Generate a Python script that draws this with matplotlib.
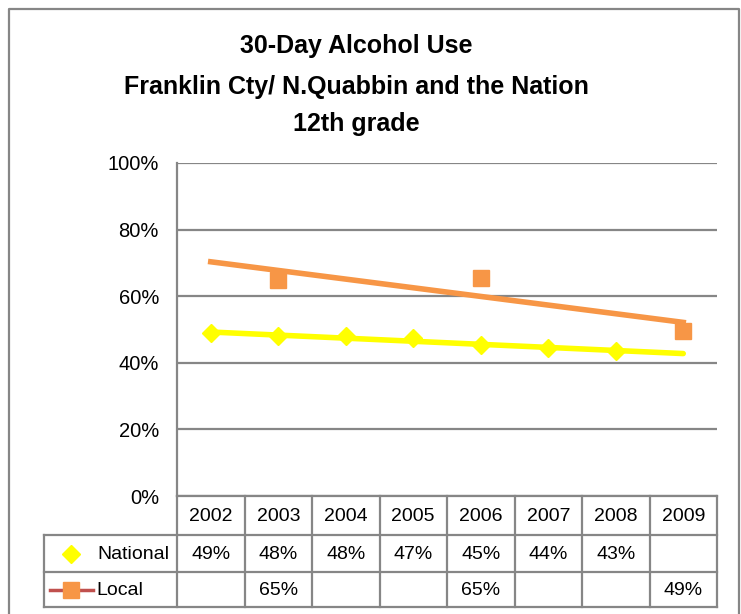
import numpy as np
import matplotlib
matplotlib.use('Agg')
from matplotlib import pyplot as plt

years = ['2002', '2003', '2004', '2005', '2006', '2007', '2008', '2009']
national = [48.8, 47.9, 48.1, 47.3, 45.4, 44.4, 43.4, None]
local = [None, 65.0, None, None, 65.4, None, None, 49.4]
series_names = ['National', 'Local']
title_lines = ['30-Day Alcohol Use', 'Franklin Cty/ N.Quabbin and the Nation', '12th grade']

W, H = 741, 614
grey = '#868686'
orange = '#F79646'
yellow = '#FFFF00'
red = '#C0504D'

# pixel layout (reference image)
ax_l, ax_r, ax_t, ax_b = 177, 717, 163, 496
tab_l = 44
row_edges = [496, 535, 572, 607]
title_base = [53, 94, 131]

plt.rcParams['font.family'] = ['Liberation Sans', 'DejaVu Sans']

fig = plt.figure(figsize=(W / 100, H / 100), dpi=100)

# overlay in pixel coords for frame + data table
ov = fig.add_axes([0, 0, 1, 1])
ov.set_xlim(0, W)
ov.set_ylim(H, 0)
ov.axis('off')

lw = 1.6
ov.plot([9, 9, 739, 739], [H + 5, 9, 9, H + 5], color=grey, lw=lw)

ax = fig.add_axes([ax_l / W, 1 - ax_b / H, (ax_r - ax_l) / W, (ax_b - ax_t) / H])
ax.set_facecolor('none')
x = np.arange(len(years))
ax.set_xlim(-0.5, len(years) - 0.5)
ax.set_ylim(0, 100)
ax.set_yticks(range(0, 101, 20))
ax.set_yticklabels([f'{v}%' for v in range(0, 101, 20)], fontsize=14.5)
ax.tick_params(axis='y', length=0, pad=13)
ax.set_xticks([])
ax.grid(axis='y', color=grey, lw=lw)
ax.set_axisbelow(True)
for s in ['top', 'right', 'bottom']:
    ax.spines[s].set_visible(False)
ax.spines['left'].set_color(grey)
ax.spines['left'].set_linewidth(lw)

# national: markers + linear trend
nx = np.array([i for i, v in enumerate(national) if v is not None])
ny = np.array([v for v in national if v is not None])
ax.plot(nx, ny, linestyle='none', marker='D', color=yellow, markersize=9, zorder=3)
k, b = np.polyfit(nx, ny, 1)
ax.plot([x[0], x[-1]], [k * x[0] + b, k * x[-1] + b], color=yellow, lw=4, zorder=4,
        solid_capstyle='round')

# local: markers + linear trend
lx = np.array([i for i, v in enumerate(local) if v is not None])
ly = np.array([v for v in local if v is not None])
ax.plot(lx, ly, linestyle='none', marker='s', color=orange, markersize=11, zorder=3)
k, b = np.polyfit(lx, ly, 1)
ax.plot([x[0], x[-1]], [k * x[0] + b, k * x[-1] + b], color=orange, lw=4, zorder=4)

# data table
col_w = (ax_r - ax_l) / len(years)
col_edges = [ax_l + i * col_w for i in range(len(years) + 1)]
ov.plot([ax_l, ax_r], [row_edges[0], row_edges[0]], color=grey, lw=lw)
for yy in row_edges[1:]:
    ov.plot([tab_l, ax_r], [yy, yy], color=grey, lw=lw)
for xx in col_edges:
    ov.plot([xx, xx], [row_edges[0], row_edges[-1]], color=grey, lw=lw)
ov.plot([tab_l, tab_l], [row_edges[1], row_edges[-1]], color=grey, lw=lw)

fs = 14
for i, yr in enumerate(years):
    cx = (col_edges[i] + col_edges[i + 1]) / 2
    ov.text(cx, (row_edges[0] + row_edges[1]) / 2 + 1, yr, ha='center', va='center', fontsize=fs)
    for r, vals in enumerate([national, local]):
        if vals[i] is not None:
            cy = (row_edges[r + 1] + row_edges[r + 2]) / 2 + 1
            ov.text(cx, cy, f'{round(vals[i])}%', ha='center', va='center', fontsize=fs)

# legend keys in table
cy = (row_edges[1] + row_edges[2]) / 2
ov.plot([71], [cy], marker='D', color=yellow, markersize=9, linestyle='none')
ov.text(169, cy + 1, series_names[0], ha='right', va='center', fontsize=fs)
cy = (row_edges[2] + row_edges[3]) / 2
ov.plot([50, 93], [cy, cy], color=red, lw=2.5)
ov.plot([71], [cy], marker='s', color=orange, markersize=11, linestyle='none')
ov.text(96, cy + 1, series_names[1], ha='left', va='center', fontsize=fs)

for line, yb in zip(title_lines, title_base):
    ov.text(356, yb, line, ha='center', va='baseline', fontsize=18,
            fontweight='bold')

fig.savefig('out.png', dpi=100)
